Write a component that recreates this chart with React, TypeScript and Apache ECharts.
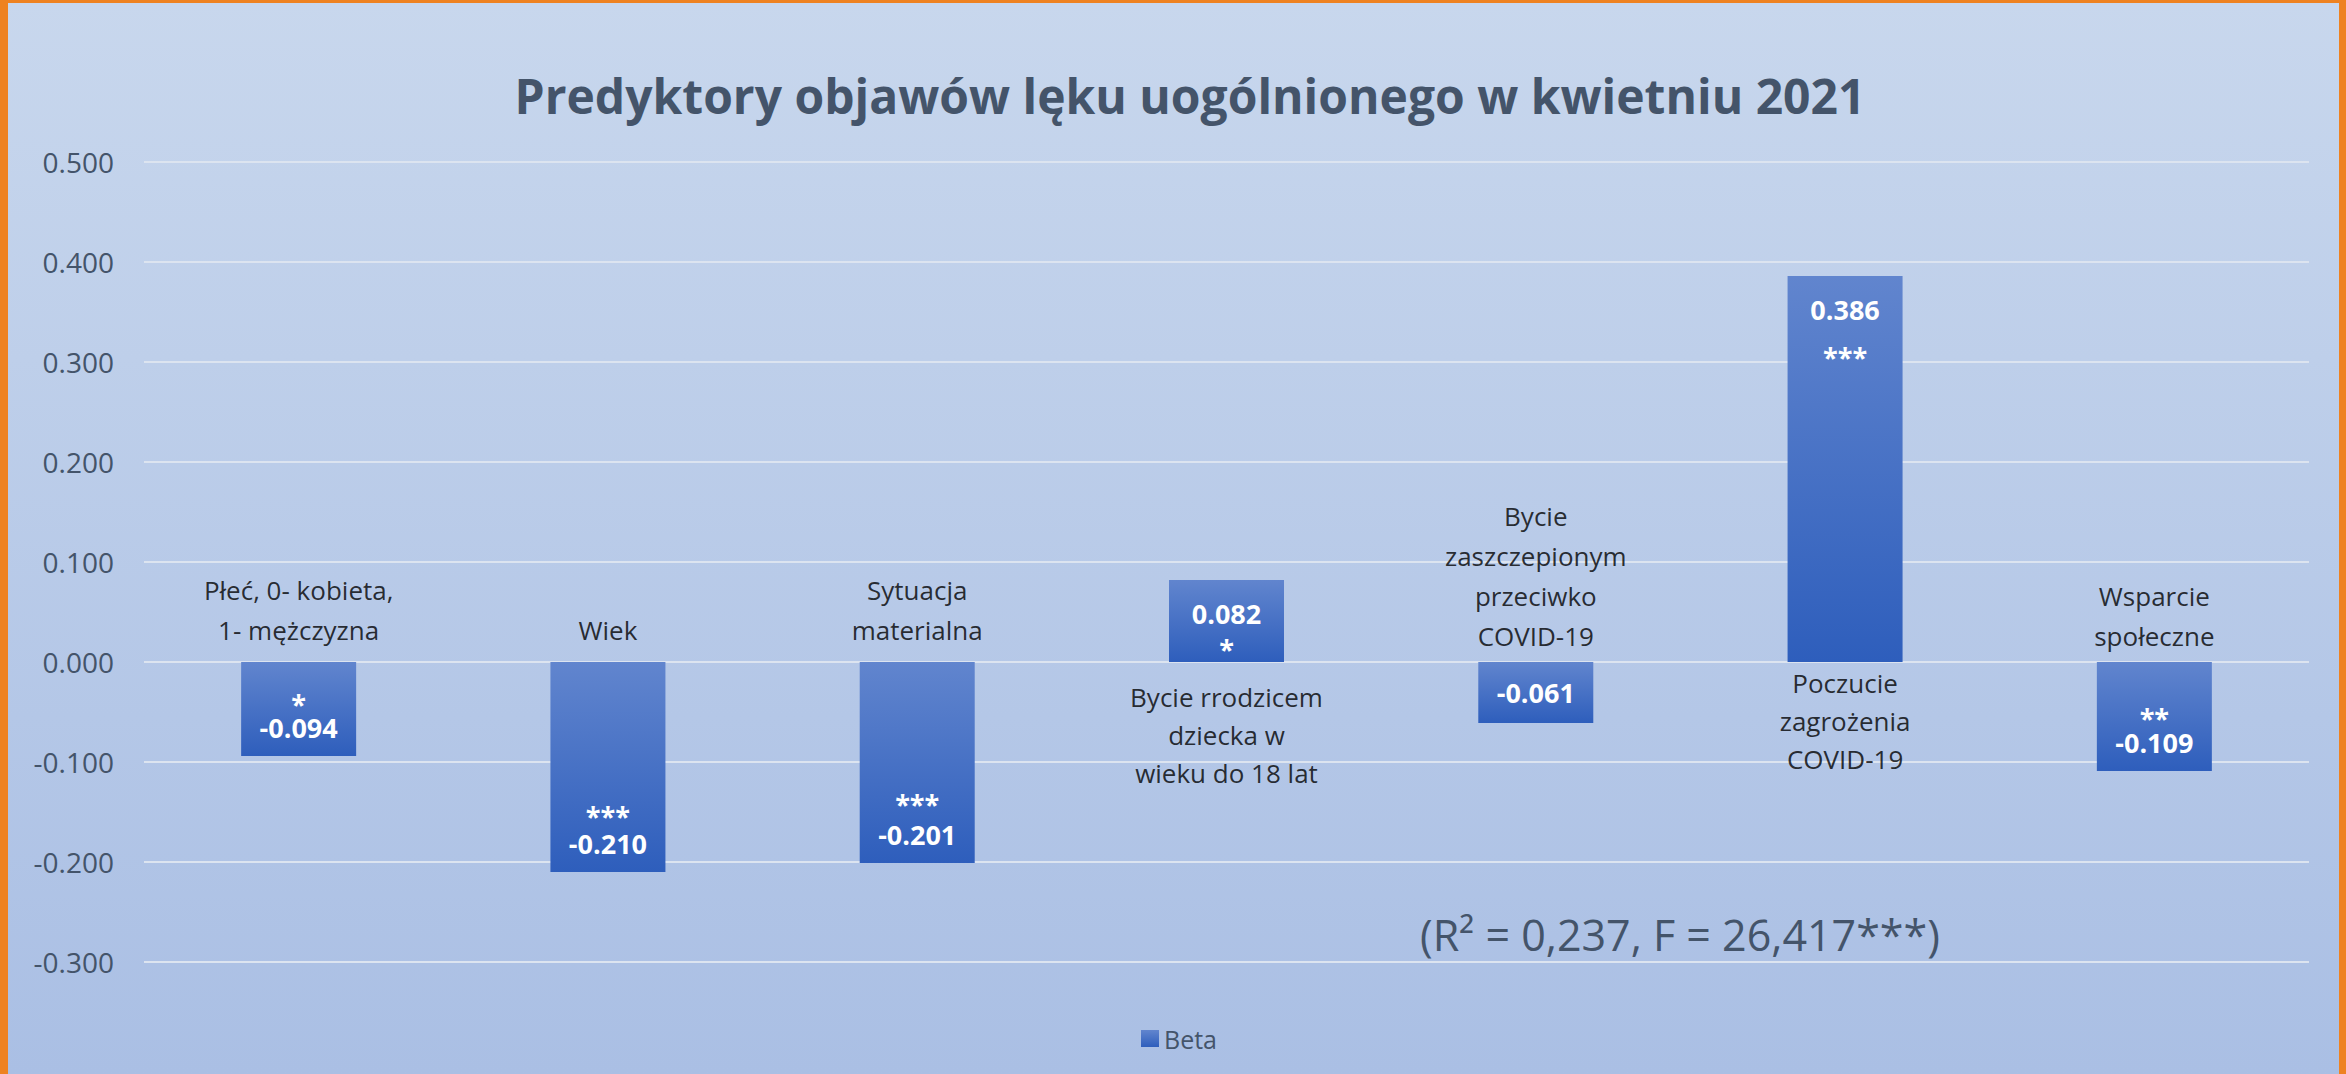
import React, { useEffect, useRef } from "react";
import * as echarts from "echarts";

// ---------- data ----------
const categories = [
  "Płeć, 0- kobieta,\n1- mężczyzna",
  "Wiek",
  "Sytuacja\nmaterialna",
  "Bycie rrodzicem\ndziecka w\nwieku do 18 lat",
  "Bycie\nzaszczepionym\nprzeciwko\nCOVID-19",
  "Poczucie\nzagrożenia\nCOVID-19",
  "Wsparcie\nspołeczne",
];
const betaValues = [-0.094, -0.21, -0.201, 0.082, -0.061, 0.386, -0.109];
const significance = ["*", "***", "***", "*", "", "***", "**"];
const seriesName = "Beta";
const yMin = -0.3;
const yMax = 0.5;
const yStep = 0.1;
const titleText = "Predyktory objawów lęku uogólnionego w kwietniu 2021";
const fitNote = "(R² = 0,237, F = 26,417***)";

// ---------- styles ----------
const FONT = '"Open Sans", "Noto Sans", "DejaVu Sans", sans-serif';
const TEXT_GRAY = "#44546A";
const ORANGE = "#EE8221";
const starLineHeights = [18, 26, 32, 40, 30, 64, 20];
const catLabelGap = [12, 12, 12, 16, 6, 2, 6];

export default function App() {
  const ref = useRef<HTMLDivElement>(null);

  useEffect(() => {
    document.body.style.margin = "0";
    if (!ref.current) return;
    const chart = echarts.init(ref.current, undefined, { renderer: "svg" });

    const barGradient = new echarts.graphic.LinearGradient(0, 0, 0, 1, [
      { offset: 0, color: "#6185CE" },
      { offset: 1, color: "#2E5EBC" },
    ]);

    const valueRich = (i: number) => ({
      v: {
        color: "#FFFFFF",
        fontFamily: FONT,
        fontWeight: "bold",
        fontSize: 27,
        lineHeight: 30,
      },
      s: {
        color: "#FFFFFF",
        fontFamily: FONT,
        fontWeight: "bold",
        fontSize: 27,
        lineHeight: starLineHeights[i],
      },
    });

    const barData = betaValues.map((v, i) => {
      const hasStars = significance[i] !== "";
      let position = "inside";
      let distance = 5;
      if (hasStars) {
        position = v < 0 ? "insideBottom" : "insideTop";
        distance = v < 0 ? 14 : 18;
      }
      return {
        value: v,
        label: { position, distance, rich: valueRich(i) },
      };
    });

    const catData = betaValues.map((v, i) => ({
      value: [i, 0],
      label: {
        position: v < 0 ? "top" : "bottom",
        distance: catLabelGap[i],
        lineHeight: v < 0 ? 40 : 38,
      },
    }));

    chart.setOption({
      animation: false,
      backgroundColor: new echarts.graphic.LinearGradient(0, 0, 0, 1, [
        { offset: 0, color: "#C8D7ED" },
        { offset: 1, color: "#AABFE4" },
      ]),
      textStyle: { fontFamily: FONT },
      grid: { left: 144, right: 37, top: 162, bottom: 112, containLabel: false },
      legend: {
        data: [seriesName],
        left: 1136,
        top: 1021,
        icon: "rect",
        itemWidth: 18,
        itemHeight: 17,
        itemGap: 10,
        textStyle: { fontSize: 25, color: TEXT_GRAY, fontFamily: FONT },
      },
      xAxis: {
        type: "category",
        data: categories,
        axisLine: { show: false },
        axisTick: { show: false },
        axisLabel: { show: false },
        splitLine: { show: false },
      },
      yAxis: {
        type: "value",
        min: yMin,
        max: yMax,
        interval: yStep,
        axisLine: { show: false },
        axisTick: { show: false },
        axisLabel: {
          fontSize: 28,
          color: TEXT_GRAY,
          fontFamily: FONT,
          margin: 30,
          formatter: (v: number) => (Math.abs(v) < 1e-9 ? 0 : v).toFixed(3),
        },
        splitLine: { lineStyle: { color: "#DCE4F0", width: 2 } },
      },
      series: [
        {
          name: seriesName,
          type: "bar",
          barWidth: 115,
          itemStyle: { color: barGradient },
          data: barData,
          z: 2,
          label: {
            show: true,
            formatter: (p: any) => {
              const i = p.dataIndex;
              const val = betaValues[i].toFixed(3);
              const st = significance[i];
              if (!st) return `{v|${val}}`;
              return betaValues[i] < 0 ? `{s|${st}}\n{v|${val}}` : `{v|${val}}\n{s|${st}}`;
            },
            rich: valueRich(0),
          },
        },
        {
          name: "categories",
          type: "scatter",
          symbolSize: 0,
          silent: true,
          data: catData,
          z: 3,
          label: {
            show: true,
            formatter: (p: any) => categories[p.dataIndex],
            fontSize: 26,
            lineHeight: 40,
            color: "#000000",
            fontFamily: FONT,
            align: "center",
          },
        },
      ],
      graphic: [
        {
          type: "text",
          x: 1190,
          y: 95,
          style: {
            text: titleText,
            fill: TEXT_GRAY,
            fontFamily: FONT,
            fontWeight: "bold",
            fontSize: 48,
            align: "center",
            verticalAlign: "middle",
            textAlign: "center",
            textVerticalAlign: "middle",
          },
        },
        {
          type: "text",
          x: 1680,
          y: 934,
          style: {
            text: fitNote,
            fill: TEXT_GRAY,
            fontFamily: FONT,
            fontSize: 43,
            align: "center",
            verticalAlign: "middle",
            textAlign: "center",
            textVerticalAlign: "middle",
          },
        },
        { type: "rect", z: 100, shape: { x: 0, y: 0, width: 8, height: 1074 }, style: { fill: ORANGE } },
        { type: "rect", z: 100, shape: { x: 0, y: 0, width: 2346, height: 3 }, style: { fill: ORANGE } },
        { type: "rect", z: 100, shape: { x: 2339, y: 0, width: 7, height: 1074 }, style: { fill: ORANGE } },
      ],
    });

    return () => {
      chart.dispose();
    };
  }, []);

  return (
    <div
      ref={ref}
      style={{ width: 2346, height: 1074, position: "fixed", left: 0, top: 0 }}
    />
  );
}
